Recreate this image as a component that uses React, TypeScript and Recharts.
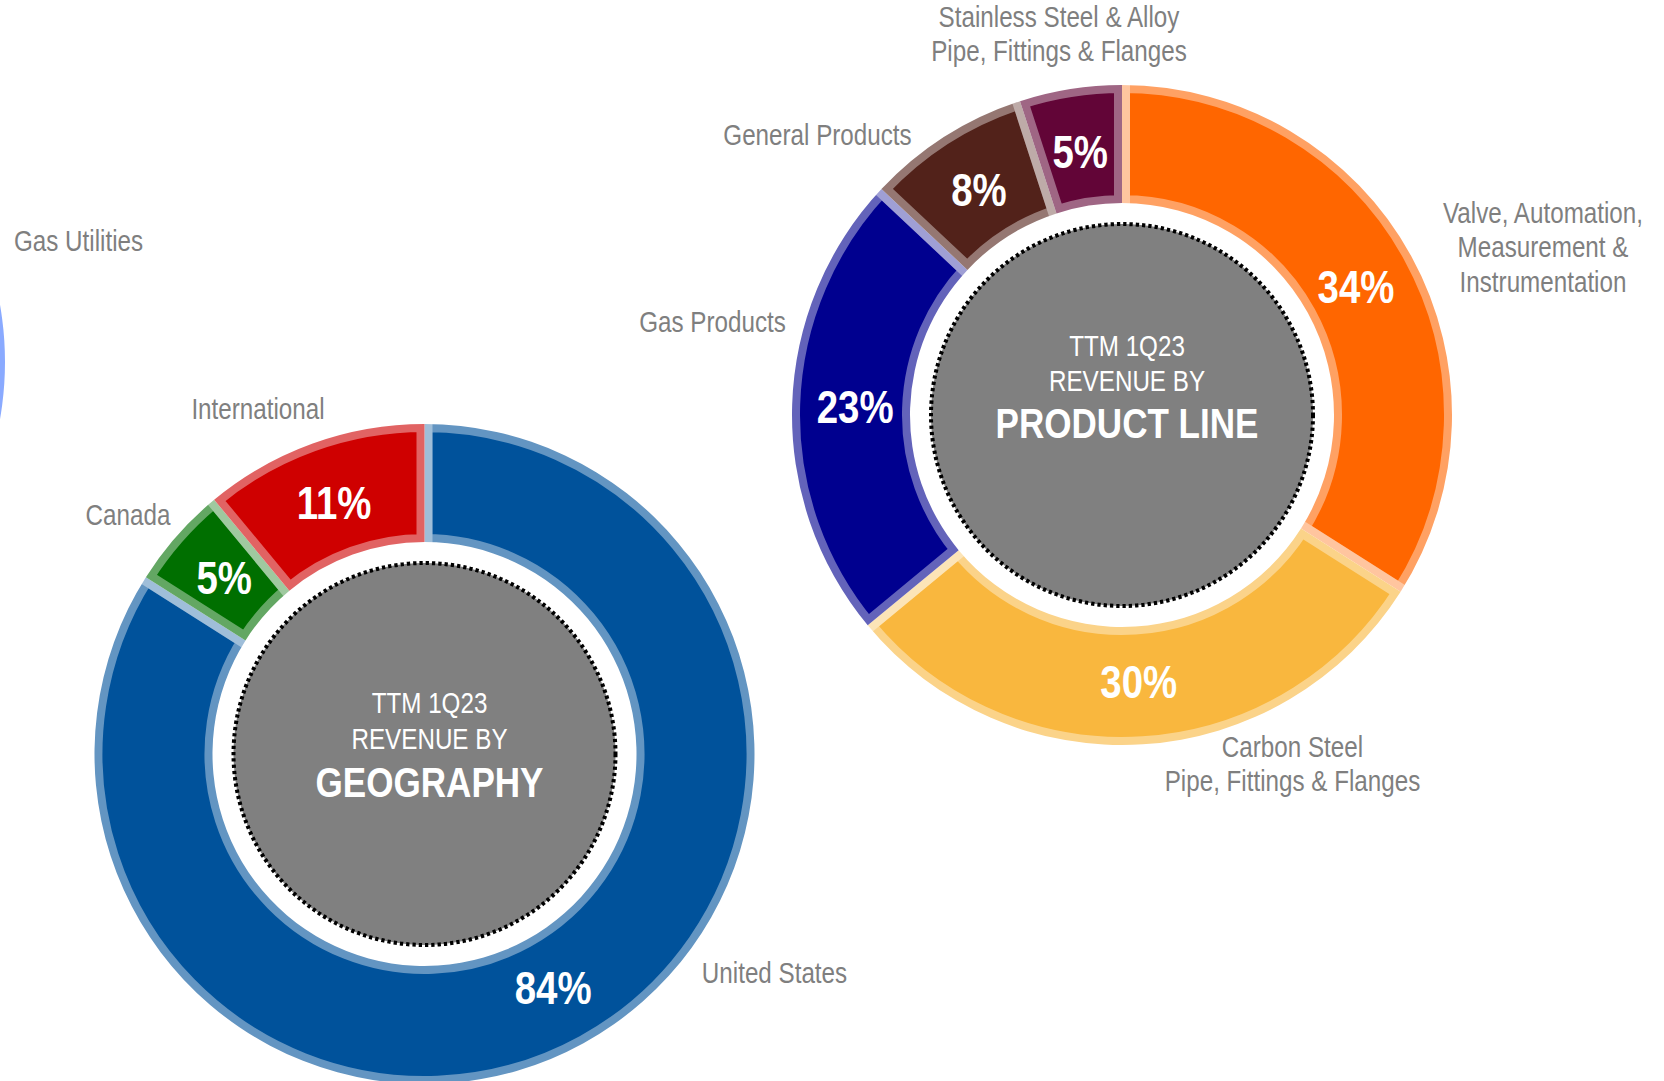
import React from 'react';
import { PieChart, Pie, Cell } from 'recharts';

// ---------- data ----------
const geographyNames = ['United States', 'Canada', 'International'];
const geographyValues = [84, 5, 11];
const geographyColors = ['#00529b', '#006f00', '#cf0000'];

const productNames = [
  'Valve, Automation,\nMeasurement &\nInstrumentation',
  'Carbon Steel\nPipe, Fittings & Flanges',
  'Gas Products',
  'General Products',
  'Stainless Steel & Alloy\nPipe, Fittings & Flanges',
];
const productValues = [34, 30, 23, 8, 5];
const productColors = ['#ff6600', '#f9b73e', '#00008f', '#52221a', '#620537'];

const endMarketNames = ['Gas Utilities'];
const endMarketValues = [100];
const endMarketColors = ['#4074ff'];

const centerLines = {
  geography: ['TTM 1Q23', 'REVENUE BY', 'GEOGRAPHY'],
  product: ['TTM 1Q23', 'REVENUE BY', 'PRODUCT LINE'],
};

const geographyData = geographyNames.map((name, i) => ({ name, value: geographyValues[i] }));
const productData = productNames.map((name, i) => ({ name, value: productValues[i] }));
const endMarketData = endMarketNames.map((name, i) => ({ name, value: endMarketValues[i] }));

// ---------- layout ----------
const W = 1664;
const H = 1081;
const OUTER = 330;
const INNER = 212;
const DISC = 191;
const LABEL_R = 267;
const FONT = "'Liberation Sans', Arial, sans-serif";
const NARROW = 0.835;
const GREY = '#7f7f7f';
const RING_STROKE = 'rgba(255,255,255,0.39)';

const GEO = { cx: 424.5, cy: 754 };
const PROD = { cx: 1122, cy: 415 };
const ENDM = { cx: -325, cy: 362 };

// name-label anchor offsets (relative to each pie's centre), first-line baseline
const nameOffsets: Record<string, { dx: number; dy: number; anchor: 'start' | 'middle' | 'end' }> = {
  'United States': { dx: 350, dy: 229, anchor: 'middle' },
  Canada: { dx: -296.5, dy: -229, anchor: 'middle' },
  International: { dx: -166.5, dy: -335, anchor: 'middle' },
  'Valve, Automation,\nMeasurement &\nInstrumentation': { dx: 421, dy: -191.7, anchor: 'middle' },
  'Carbon Steel\nPipe, Fittings & Flanges': { dx: 170.5, dy: 341.7, anchor: 'middle' },
  'Gas Products': { dx: -409.5, dy: -83.3, anchor: 'middle' },
  'General Products': { dx: -304.5, dy: -270, anchor: 'middle' },
  'Stainless Steel & Alloy\nPipe, Fittings & Flanges': { dx: -63, dy: -387.7, anchor: 'middle' },
  'Gas Utilities': { dx: 339, dy: -111.3, anchor: 'start' },
};

const RAD = Math.PI / 180;

type NTProps = {
  x: number;
  y: number;
  lines: string[];
  size: number;
  fill: string;
  bold?: boolean;
  anchor?: 'start' | 'middle' | 'end';
  lineGap?: number;
};

const NarrowText = ({ x, y, lines, size, fill, bold, anchor = 'middle', lineGap = 34.2 }: NTProps) => (
  <text
    transform={`translate(${x} ${y}) scale(${NARROW} 1)`}
    x={0}
    y={0}
    textAnchor={anchor}
    fill={fill}
    fontFamily={FONT}
    fontWeight={bold ? 'bold' : 'normal'}
    fontSize={size}
  >
    {lines.map((ln, i) => (
      <tspan key={i} x={0} dy={i === 0 ? 0 : lineGap}>
        {ln}
      </tspan>
    ))}
  </text>
);

const makeLabel = (showPercent: boolean) => (props: any) => {
  const { cx, cy, midAngle, name, value, index } = props;
  const lx = cx + LABEL_R * Math.cos(-midAngle * RAD);
  const ly = cy + LABEL_R * Math.sin(-midAngle * RAD);
  const off = nameOffsets[name];
  const lines = String(name).split('\n');
  return (
    <g key={`lbl-${name}-${index}`}>
      {showPercent && (
        <NarrowText x={lx} y={ly + 16.5} lines={[`${value}%`]} size={46} fill="#ffffff" bold />
      )}
      {off && <NarrowText x={cx + off.dx} y={cy + off.dy} lines={lines} size={29} fill={GREY} anchor={off.anchor} />}
    </g>
  );
};

const CenterDisc = ({ cx, cy, lines, ys }: { cx: number; cy: number; lines: string[]; ys: number[] }) => (
  <g>
    <circle cx={cx} cy={cy} r={DISC} fill="#808080" stroke="#000000" strokeWidth={4} strokeDasharray="3.3 3" />
    <NarrowText x={cx + 5} y={cy + ys[0]} lines={[lines[0]]} size={29} fill="#ffffff" />
    <NarrowText x={cx + 5} y={cy + ys[1]} lines={[lines[1]]} size={29} fill="#ffffff" />
    <NarrowText x={cx + 5} y={cy + ys[2]} lines={[lines[2]]} size={42} fill="#ffffff" bold />
  </g>
);

export default function App() {
  return (
    <div style={{ position: 'absolute', left: 0, top: 0, width: W, height: H, background: '#ffffff' }}>
      <PieChart width={W} height={H} margin={{ top: 0, right: 0, bottom: 0, left: 0 }}>
        <Pie
          data={endMarketData}
          dataKey="value"
          nameKey="name"
          cx={ENDM.cx}
          cy={ENDM.cy}
          innerRadius={INNER}
          outerRadius={OUTER}
          startAngle={90}
          endAngle={-270}
          isAnimationActive={false}
          labelLine={false}
          label={makeLabel(false)}
        >
          {endMarketData.map((d, i) => (
            <Cell key={d.name} fill={endMarketColors[i]} stroke={RING_STROKE} strokeWidth={16} />
          ))}
        </Pie>
        <Pie
          data={geographyData}
          dataKey="value"
          nameKey="name"
          cx={GEO.cx}
          cy={GEO.cy}
          innerRadius={INNER}
          outerRadius={OUTER}
          startAngle={90}
          endAngle={-270}
          isAnimationActive={false}
          labelLine={false}
          label={makeLabel(true)}
        >
          {geographyData.map((d, i) => (
            <Cell key={d.name} fill={geographyColors[i]} stroke={RING_STROKE} strokeWidth={16} />
          ))}
        </Pie>
        <Pie
          data={productData}
          dataKey="value"
          nameKey="name"
          cx={PROD.cx}
          cy={PROD.cy}
          innerRadius={INNER}
          outerRadius={OUTER}
          startAngle={90}
          endAngle={-270}
          isAnimationActive={false}
          labelLine={false}
          label={makeLabel(true)}
        >
          {productData.map((d, i) => (
            <Cell key={d.name} fill={productColors[i]} stroke={RING_STROKE} strokeWidth={16} />
          ))}
        </Pie>
        <CenterDisc cx={GEO.cx} cy={GEO.cy} lines={centerLines.geography} ys={[-41, -5, 42.7]} />
        <CenterDisc cx={PROD.cx} cy={PROD.cy} lines={centerLines.product} ys={[-59, -24, 23]} />
      </PieChart>
    </div>
  );
}
